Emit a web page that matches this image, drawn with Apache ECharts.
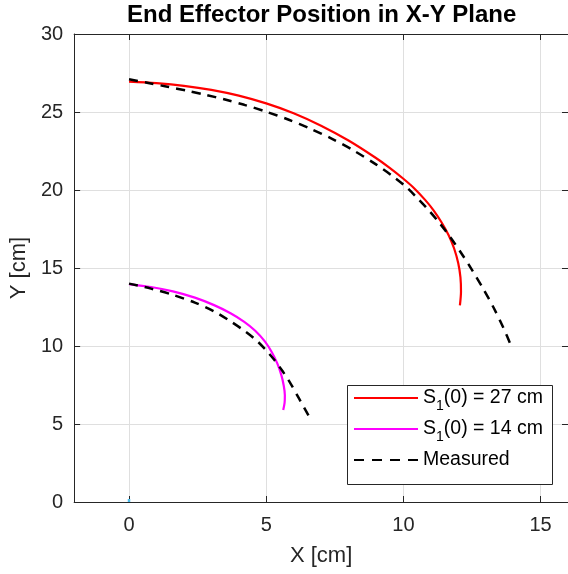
<!DOCTYPE html>
<html>
<head>
<meta charset="utf-8">
<script src="https://cdn.jsdelivr.net/npm/echarts@6/dist/echarts.min.js"></script>
<style>html,body{margin:0;padding:0;background:#fff;}#c{width:568px;height:574px;}</style>
</head>
<body>
<div id="c"></div>
<script>
const titleText = 'End Effector Position in X-Y Plane';
const xName = 'X [cm]';
const yName = 'Y [cm]';
const seriesNames = ['S1(0) = 27 cm', 'S1(0) = 14 cm', 'Measured'];

// S1(0) = 27 cm (red)
const redX = [0, 1, 2, 3, 4, 5, 6, 7, 8, 9, 9.5, 10, 10.4, 10.8, 11.1, 11.4, 11.65, 11.85, 12.0, 12.08, 12.1, 12.06];
const redY = [26.95, 26.85, 26.68, 26.42, 26.05, 25.55, 24.92, 24.12, 23.17, 22.05, 21.42, 20.72, 20.1, 19.35, 18.7, 17.9, 17.1, 16.25, 15.3, 14.4, 13.5, 12.6];

// Measured, upper
const meas1X = [0, 0.7, 1.4, 2.1, 2.8, 3.5, 4.2, 5, 5.8, 6.6, 7.4, 8.2, 9.0, 9.6, 10.1, 10.5, 10.9, 11.3, 11.7, 12.1, 12.5, 12.9, 13.3, 13.65, 13.93];
const meas1Y = [27.1, 26.86, 26.62, 26.37, 26.1, 25.8, 25.46, 25.02, 24.52, 23.94, 23.28, 22.52, 21.64, 20.9, 20.2, 19.5, 18.75, 17.92, 17.0, 15.98, 14.88, 13.7, 12.42, 11.15, 10.0];

// S1(0) = 14 cm (magenta)
const magX = [0, 0.8, 1.6, 2.4, 3.1, 3.7, 4.2, 4.6, 4.95, 5.2, 5.4, 5.55, 5.64, 5.68, 5.67, 5.62];
const magY = [13.97, 13.78, 13.5, 13.1, 12.62, 12.1, 11.55, 10.98, 10.3, 9.62, 8.9, 8.15, 7.45, 6.85, 6.35, 5.9];

// Measured, lower
const meas2X = [0, 0.8, 1.6, 2.4, 3.1, 3.7, 4.2, 4.65, 5.0, 5.3, 5.6, 5.9, 6.2, 6.54];
const meas2Y = [14.0, 13.68, 13.28, 12.78, 12.22, 11.58, 10.98, 10.35, 9.72, 9.1, 8.38, 7.56, 6.62, 5.55];

// small mark at origin
const originX = [0, 0];
const originY = [0, 0.2];

function zip(xs, ys) { return xs.map((x, i) => [x, ys[i]]); }

const FONT = '"Liberation Sans", Arial, Helvetica, sans-serif';
const AX = '#262626';
const GRID = '#dfdfdf';
const DASH_ICON = 'path://M0,0H10V2H0Z M18,0H28V2H18Z M36,0H46V2H36Z M54,0H64V2H54Z';

const chart = echarts.init(document.getElementById('c'), null, {renderer: 'canvas'});

const lineCommon = {
  type: 'line', showSymbol: false, symbol: 'none', smooth: 0.3, smoothMonotone: 'none',
  xAxisIndex: 0, yAxisIndex: 0, clip: true
};

const option = {
  backgroundColor: '#fff',
  animation: false,
  textStyle: {fontFamily: FONT},
  title: {
    text: titleText, left: 127, top: 3, padding: 0,
    textStyle: {fontFamily: FONT, fontSize: 24, fontWeight: 'bold', color: '#000'}
  },
  grid: {left: 73, right: -2, top: 34, bottom: 72, containLabel: false},
  xAxis: [
    {
      type: 'value', min: -2, max: 16, splitNumber: 4, position: 'bottom',
      name: xName, nameLocation: 'middle', nameGap: 43,
      nameTextStyle: {fontFamily: FONT, fontSize: 22, color: AX},
      axisLine: {show: true, onZero: false, lineStyle: {color: AX, width: 1}},
      axisTick: {show: true, inside: true, length: 6, lineStyle: {color: AX}},
      axisLabel: {show: true, showMinLabel: false, showMaxLabel: false, margin: 13, fontFamily: FONT, fontSize: 20, color: AX},
      splitLine: {show: true, lineStyle: {color: GRID, width: 1}}
    },
    {
      type: 'value', min: -2, max: 16, splitNumber: 4, position: 'top',
      axisLine: {show: true, onZero: false, lineStyle: {color: AX, width: 1}},
      axisTick: {show: true, inside: true, length: 6, lineStyle: {color: AX}},
      axisLabel: {show: false}, splitLine: {show: false}
    }
  ],
  yAxis: [
    {
      type: 'value', min: 0, max: 30, interval: 5, position: 'left',
      name: yName, nameLocation: 'middle', nameGap: 34,
      nameTextStyle: {fontFamily: FONT, fontSize: 22, color: AX},
      axisLine: {show: true, onZero: false, lineStyle: {color: AX, width: 1}},
      axisTick: {show: true, inside: true, length: 6, lineStyle: {color: AX}},
      axisLabel: {show: true, margin: 11, fontFamily: FONT, fontSize: 20, color: AX},
      splitLine: {show: true, lineStyle: {color: GRID, width: 1}}
    },
    {
      type: 'value', min: 0, max: 30, interval: 5, position: 'right',
      axisLine: {show: true, onZero: false, lineStyle: {color: AX, width: 1}},
      axisTick: {show: true, inside: true, length: 6, lineStyle: {color: AX}},
      axisLabel: {show: false}, splitLine: {show: false}
    }
  ],
  legend: {
    orient: 'vertical', left: 354, top: 388, padding: 0, itemGap: 6,
    itemWidth: 64, itemHeight: 2.2,
    data: [
      {name: seriesNames[0], icon: 'rect'},
      {name: seriesNames[1], icon: 'rect'},
      {name: seriesNames[2], icon: DASH_ICON}
    ],
    formatter: function (name) {
      if (name === 'Measured') return '{m|Measured}';
      const m = name.match(/^S1\(0\) = (.*)$/);
      return '{a|S}{s|1}{a|(0) = ' + m[1] + '}';
    },
    textStyle: {
      fontFamily: FONT, color: '#000', fontSize: 19.5,
      rich: {
        a: {fontFamily: FONT, fontSize: 19.5, lineHeight: 30, color: '#000'},
        s: {fontFamily: FONT, fontSize: 14, lineHeight: 14, verticalAlign: 'bottom', color: '#000'},
        m: {fontFamily: FONT, fontSize: 19.5, lineHeight: 18, color: '#000'}
      }
    }
  },
  graphic: [
    {type: 'rect', z: 3, shape: {x: 347.5, y: 385.5, width: 205, height: 99},
     style: {fill: '#fff', stroke: AX, lineWidth: 1}}
  ],
  series: [
    Object.assign({}, lineCommon, {name: seriesNames[0], data: zip(redX, redY), lineStyle: {color: '#ff0000', width: 2.2}, itemStyle: {color: '#ff0000'}, z: 3}),
    Object.assign({}, lineCommon, {name: seriesNames[1], data: zip(magX, magY), lineStyle: {color: '#ff00ff', width: 2.2}, itemStyle: {color: '#ff00ff'}, z: 3}),
    Object.assign({}, lineCommon, {name: seriesNames[2], data: zip(meas1X, meas1Y), lineStyle: {color: '#000', width: 2.5, type: [9, 7]}, itemStyle: {color: '#000'}, z: 4}),
    Object.assign({}, lineCommon, {name: seriesNames[2], data: zip(meas2X, meas2Y), lineStyle: {color: '#000', width: 2.5, type: [9, 7]}, itemStyle: {color: '#000'}, z: 4}),
    Object.assign({}, lineCommon, {name: 'origin', data: zip(originX, originY), smooth: false, lineStyle: {color: '#4dbeee', width: 2.5}, itemStyle: {color: '#4dbeee'}, z: 5})
  ]
};
chart.setOption(option);
</script>
</body>
</html>
